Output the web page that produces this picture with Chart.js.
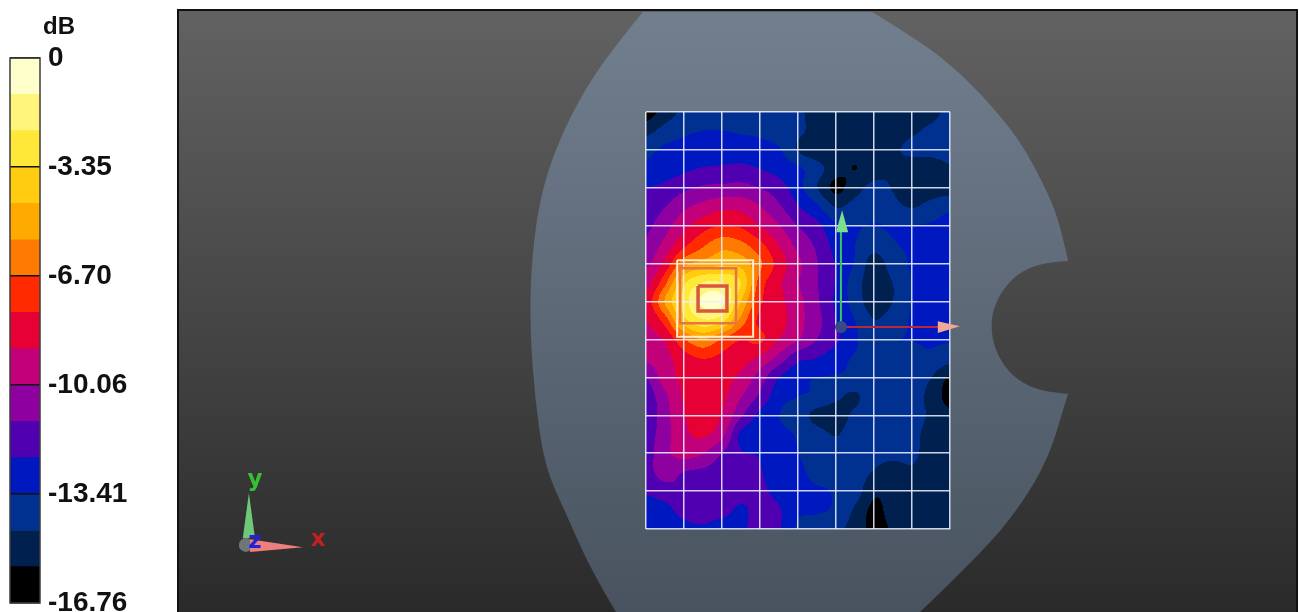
<!DOCTYPE html>
<html>
<head>
<meta charset="utf-8">
<title>SAR scan</title>
<script src="https://cdn.jsdelivr.net/npm/chart.js@4"></script>
<style>
    body { margin: 0; background: #fff; width: 1299px; height: 612px; overflow: hidden; position: relative; }
    canvas { position: absolute; left: 0; top: 0; }
</style>
</head>
<body>
<canvas id="scan" width="1299" height="612"></canvas>
<canvas id="legend" width="178" height="612"></canvas>
<script>
// colour bar
const bandEdges = [-16.76, -15.64, -14.53, -13.41, -12.29, -11.17, -10.06, -8.94, -7.82, -6.70, -5.59, -4.47, -3.35, -2.23, -1.12, 0];
const bandColors = ['#000000', '#00204f', '#003090', '#0018c0', '#5000b0', '#8f00a0', '#c2007a', '#e60033', '#ff2a00', '#ff7a00', '#ffaa00', '#ffcc10', '#ffe838', '#fff57a', '#ffffcc'];
const tickValues = [0, -3.35, -6.70, -10.06, -13.41, -16.76];
const tickLabels = ['0', '-3.35', '-6.70', '-10.06', '-13.41', '-16.76'];

// measured field in dB, half a grid cell apart, first row is the top of the scan
const fieldDb = [
    [-16.2,-15.1,-14.3,-14.0,-13.9,-13.9,-13.9,-14.0,-14.3,-15.0,-15.1,-15.1,-15.1,-15.1,-15.1,-14.9,-14.2],
    [-14.9,-14.1,-13.6,-13.4,-13.4,-13.5,-13.6,-13.9,-14.3,-14.9,-15.1,-15.1,-15.1,-15.0,-14.7,-14.3,-14.0],
    [-13.7,-13.2,-13.0,-13.0,-12.9,-12.9,-13.0,-13.3,-14.6,-15.2,-15.2,-15.3,-15.1,-14.7,-14.3,-14.1,-13.9],
    [-13.2,-12.9,-12.5,-12.2,-12.1,-12.0,-12.3,-12.7,-13.2,-14.1,-15.2,-15.65,-15.1,-14.7,-15.1,-15.3,-14.7],
    [-12.3,-12.0,-11.4,-11.0,-10.9,-10.8,-11.2,-11.8,-13.0,-14.5,-15.9,-15.0,-14.2,-14.6,-15.3,-15.2,-15.0],
    [-11.8,-11.2,-10.3,-9.7,-9.2,-9.3,-10.0,-11.0,-12.2,-13.2,-14.6,-14.1,-13.9,-14.2,-14.6,-14.1,-13.6],
    [-11.4,-10.5,-9.2,-8.3,-7.8,-8.0,-9.0,-10.0,-11.2,-12.0,-13.2,-13.4,-13.4,-13.4,-13.4,-13.3,-13.1],
    [-11.0,-9.7,-8.1,-6.9,-6.0,-6.4,-7.5,-9.0,-10.4,-11.4,-12.7,-13.4,-14.1,-13.5,-13.3,-13.2,-13.1],
    [-10.3,-8.6,-6.0,-5.2,-4.7,-4.9,-6.5,-8.3,-9.8,-11.1,-12.4,-13.5,-15.0,-14.0,-13.3,-13.1,-13.0],
    [-9.4,-7.0,-3.6,-2.2,-2.2,-3.4,-7.2,-8.7,-10.0,-11.1,-12.4,-14.0,-15.1,-14.5,-13.4,-13.1,-13.0],
    [-8.6,-5.5,-2.8,-0.9,-0.9,-4.5,-7.6,-8.6,-9.7,-11.0,-12.5,-13.9,-15.1,-14.5,-13.4,-13.0,-13.0],
    [-9.0,-7.3,-3.8,-2.4,-3.0,-6.0,-8.1,-8.5,-9.7,-10.8,-12.3,-13.4,-14.5,-14.0,-13.3,-13.0,-13.0],
    [-9.4,-8.8,-6.8,-5.6,-6.8,-7.8,-7.6,-9.0,-10.0,-11.2,-12.1,-13.2,-14.3,-13.5,-13.4,-13.3,-13.3],
    [-9.8,-9.3,-8.3,-7.8,-8.1,-8.5,-9.2,-10.5,-12.0,-12.3,-13.0,-13.5,-13.6,-13.6,-13.6,-13.6,-14.1],
    [-11.2,-9.5,-8.7,-8.4,-8.5,-9.2,-10.6,-12.3,-13.1,-13.4,-13.5,-13.6,-13.6,-13.7,-13.9,-14.5,-15.8],
    [-11.8,-10.3,-8.8,-8.5,-8.7,-10.0,-11.4,-13.0,-13.4,-13.6,-14.3,-14.7,-13.7,-13.7,-14.0,-14.9,-16.1],
    [-12.0,-10.5,-9.0,-8.6,-9.0,-11.0,-12.6,-13.4,-13.9,-14.9,-15.0,-14.3,-13.7,-13.7,-14.1,-14.7,-15.4],
    [-11.7,-10.5,-9.2,-8.8,-9.7,-12.5,-12.9,-13.2,-13.5,-14.1,-14.6,-13.9,-13.7,-13.7,-14.2,-14.9,-15.1],
    [-11.6,-10.4,-9.6,-10.0,-11.2,-12.2,-12.4,-13.2,-13.4,-13.9,-13.9,-14.0,-14.2,-14.2,-14.3,-15.0,-15.2],
    [-11.5,-10.8,-11.2,-11.4,-11.7,-12.0,-12.2,-13.1,-13.2,-13.7,-13.6,-14.0,-14.6,-15.0,-14.7,-15.1,-15.2],
    [-12.1,-11.6,-11.3,-11.6,-11.7,-11.8,-12.0,-12.7,-13.1,-13.3,-13.5,-14.0,-15.4,-15.2,-15.1,-15.2,-15.2],
    [-13.1,-12.7,-11.8,-11.5,-11.8,-12.5,-11.8,-12.2,-13.2,-13.3,-13.6,-14.7,-15.9,-15.2,-15.1,-15.2,-15.2],
    [-13.2,-13.1,-12.7,-12.5,-13.0,-12.6,-11.7,-12.2,-13.6,-13.9,-14.2,-15.0,-16.0,-15.5,-15.2,-15.2,-15.2]
];

// everything below is in grid cells, same scales as the field
const phantomOutline = [
    [-0.08,-2.64],[5.95,-2.64],[7.03,-1.98],[7.97,-1.29],[8.89,-0.40],[9.84,0.74],[10.5,1.98],[10.87,2.85],[11.11,3.93],
    [10.5,3.96],[9.84,4.22],[9.39,4.67],[9.13,5.22],[9.08,5.67],[9.16,6.2],[9.45,6.75],[9.89,7.15],[10.5,7.39],[11.11,7.44],
    [11.05,7.6],[10.61,9.1],[9.84,10.42],[8.82,11.64],[7.21,13.19],[-0.79,13.19],[-1.45,12.08],[-2.11,10.58],[-2.66,9.37],
    [-2.92,7.6],[-3.05,5.75],[-3.03,4.17],[-2.84,2.51],[-2.47,1.19],[-1.82,-0.24],[-0.97,-1.56]
];
const outlineCorners = [0, 1, 8, 18, 23, 24];
const outerBox = [[0.82,3.91],[2.82,3.91],[2.82,5.93],[0.82,5.93],[0.82,3.91]];
const middleBox = [[0.9,4.12],[2.37,4.12],[2.37,5.57],[0.9,5.57],[0.9,4.12]];
const innerBox = [[1.37,4.59],[2.13,4.59],[2.13,5.25],[1.37,5.25],[1.37,4.59]];
const yAxisLine = [[5.13,5.67],[5.13,3.11]];
const xAxisLine = [[5.13,5.67],[7.74,5.67]];
const yArrowHead = [[5.16,2.59],[5.0,3.17],[5.32,3.17]];
const xArrowHead = [[8.26,5.65],[7.68,5.52],[7.68,5.83]];
const origin = [[5.13,5.67]];
const triadY = [[-10.45,10.05],[-10.61,11.24],[-10.29,11.24]];
const triadX = [[-9.03,11.48],[-10.42,11.27],[-10.42,11.61]];
const triadOrigin = [-10.53,11.42];
const triadLetters = [['y',-10.29,9.71,'#35c035'],['x',-8.63,11.29,'#c02222'],['z',-10.29,11.35,'#2222d8']];

function toPoints(list){
    return list.map(function(p){ return {x: p[0], y: p[1]}; });
}

function bandIndex(db){
    for(let i = 1; i < bandEdges.length; i++){
        if(db < bandEdges[i]) return i - 1;
    }
    return bandColors.length - 1;
}

function fillPolygon(chart, list, color){
    const ctx = chart.ctx, xs = chart.scales.x, ys = chart.scales.y;
    ctx.fillStyle = color;
    ctx.beginPath();
    list.forEach(function(p, i){
        const px = xs.getPixelForValue(p[0]), py = ys.getPixelForValue(p[1]);
        if(i === 0) ctx.moveTo(px, py); else ctx.lineTo(px, py);
    });
    ctx.closePath();
    ctx.fill();
}

// rounds off the outline everywhere except at its real corners
function fillOutline(chart, list, corners, color){
    const ctx = chart.ctx, xs = chart.scales.x, ys = chart.scales.y;
    const pts = list.map(function(p){ return [xs.getPixelForValue(p[0]), ys.getPixelForValue(p[1])]; });
    ctx.fillStyle = color;
    ctx.beginPath();
    ctx.moveTo(pts[0][0], pts[0][1]);
    for(let i = 1; i < pts.length; i++){
        const nextIndex = (i + 1) % pts.length;
        const next = pts[nextIndex];
        if(corners.indexOf(i) >= 0){
            ctx.lineTo(pts[i][0], pts[i][1]);
        }else if(corners.indexOf(nextIndex) >= 0){
            ctx.quadraticCurveTo(pts[i][0], pts[i][1], next[0], next[1]);
        }else{
            ctx.quadraticCurveTo(pts[i][0], pts[i][1], (pts[i][0] + next[0]) / 2, (pts[i][1] + next[1]) / 2);
        }
    }
    ctx.closePath();
    ctx.fill();
}

function cubic(a, b, c, d, t){
    return b + 0.5 * t * (c - a + t * (2 * a - 5 * b + 4 * c - d + t * (3 * (b - c) + d - a)));
}

function fieldAt(row, col){
    const rows = fieldDb.length, cols = fieldDb[0].length;
    const r = Math.min(Math.floor(row), rows - 2), c = Math.min(Math.floor(col), cols - 2);
    const line = [];
    for(let k = -1; k <= 2; k++){
        const v = fieldDb[Math.max(0, Math.min(rows - 1, r + k))];
        line.push(cubic(v[Math.max(0, c - 1)], v[c], v[c + 1], v[Math.min(cols - 1, c + 2)], col - c));
    }
    return cubic(line[0], line[1], line[2], line[3], row - r);
}

function drawField(chart){
    const area = chart.chartArea, xs = chart.scales.x, ys = chart.scales.y;
    const w = Math.round(area.right - area.left), h = Math.round(area.bottom - area.top);
    const off = document.createElement('canvas');
    off.width = w;
    off.height = h;
    const octx = off.getContext('2d');
    const img = octx.createImageData(w, h);
    const rgb = bandColors.map(function(c){
        return [parseInt(c.slice(1,3),16), parseInt(c.slice(3,5),16), parseInt(c.slice(5,7),16)];
    });
    for(let j = 0; j < h; j++){
        const row = ys.getValueForPixel(area.top + j + 0.5) * 2;
        for(let i = 0; i < w; i++){
            const col = xs.getValueForPixel(area.left + i + 0.5) * 2;
            const color = rgb[bandIndex(fieldAt(row, col))];
            const k = (j * w + i) * 4;
            img.data[k] = color[0];
            img.data[k + 1] = color[1];
            img.data[k + 2] = color[2];
            img.data[k + 3] = 255;
        }
    }
    octx.putImageData(img, 0, 0);
    const ctx = chart.ctx;
    ctx.save();
    ctx.beginPath();
    ctx.rect(area.left, area.top, w, h);
    ctx.clip();
    ctx.filter = 'blur(0.7px)';
    ctx.drawImage(off, area.left, area.top);
    ctx.restore();
}

const scenePlugin = {
    id: 'scene',
    beforeDraw: function(chart){
        const ctx = chart.ctx;
        ctx.save();
        // dark panel
        const back = ctx.createLinearGradient(0, 10, 0, 612);
        back.addColorStop(0, '#626262');
        back.addColorStop(1, '#2a2a2a');
        ctx.fillStyle = back;
        ctx.fillRect(178, 10, 1119, 602);
        ctx.fillStyle = '#111';
        ctx.fillRect(177, 9, 1121, 2);
        ctx.fillRect(177, 9, 2, 603);
        ctx.fillRect(1296, 9, 2, 603);
        // phantom shape, cut by the panel
        ctx.beginPath();
        ctx.rect(179, 11, 1117, 601);
        ctx.clip();
        const skin = ctx.createLinearGradient(0, 10, 0, 612);
        skin.addColorStop(0, '#727f8f');
        skin.addColorStop(1, '#48535f');
        fillOutline(chart, phantomOutline, outlineCorners, skin);
        ctx.restore();
        drawField(chart);
    },
    afterDatasetsDraw: function(chart){
        const ctx = chart.ctx, xs = chart.scales.x, ys = chart.scales.y;
        ctx.save();
        ctx.filter = 'blur(0.6px)';
        // points outside the chart area are skipped by the library, so the small triad ball goes here
        ctx.fillStyle = '#70757a';
        ctx.beginPath();
        ctx.arc(xs.getPixelForValue(triadOrigin[0]), ys.getPixelForValue(triadOrigin[1]), 7, 0, Math.PI * 2);
        ctx.fill();
        fillPolygon(chart, yArrowHead, '#7ddf8a');
        fillPolygon(chart, xArrowHead, '#f2a897');
        fillPolygon(chart, triadY, '#6fc877');
        fillPolygon(chart, triadX, '#ee7f7f');
        ctx.font = 'bold 23px "DejaVu Sans"';
        ctx.textAlign = 'center';
        ctx.textBaseline = 'middle';
        triadLetters.forEach(function(t){
            ctx.fillStyle = t[3];
            ctx.fillText(t[0], xs.getPixelForValue(t[1]), ys.getPixelForValue(t[2]));
        });
        ctx.restore();
    }
};

function lineSet(list, color, width){
    return {data: toPoints(list), showLine: true, borderColor: color, borderWidth: width, pointRadius: 0, clip: false, tension: 0};
}

new Chart(document.getElementById('scan'), {
    type: 'scatter',
    data: {
        datasets: [
            {data: toPoints(origin), pointRadius: 6, backgroundColor: '#3a4a86', borderWidth: 0, clip: false},
            lineSet(xAxisLine, '#b82838', 2),
            lineSet(yAxisLine, '#35c860', 2),
            lineSet(innerBox, '#d9563f', 3.5),
            lineSet(middleBox, '#e8724a', 2.5),
            lineSet(outerBox, '#fff0c8', 2)
        ]
    },
    options: {
        responsive: false,
        animation: false,
        layout: {padding: {left: 646, right: 349, top: 112, bottom: 83}},
        plugins: {legend: {display: false}, tooltip: {enabled: false}},
        scales: {
            x: {
                type: 'linear', min: 0, max: 8,
                ticks: {display: false, stepSize: 1},
                grid: {color: 'rgba(235,238,255,0.88)', lineWidth: 1.5, drawTicks: false},
                border: {display: false}
            },
            y: {
                type: 'linear', min: 0, max: 11, reverse: true,
                ticks: {display: false, stepSize: 1},
                grid: {color: 'rgba(235,238,255,0.88)', lineWidth: 1.5, drawTicks: false},
                border: {display: false}
            }
        }
    },
    plugins: [scenePlugin]
});

// colour bar on the left, one floating bar for each band
const legendPlugin = {
    id: 'legendFrame',
    afterDraw: function(chart){
        const ctx = chart.ctx, area = chart.chartArea;
        ctx.save();
        ctx.strokeStyle = '#3c3c3c';
        ctx.lineWidth = 1.5;
        ctx.strokeRect(area.left, area.top, area.right - area.left, area.bottom - area.top);
        ctx.fillStyle = '#111';
        ctx.font = 'bold 24px "Liberation Sans"';
        ctx.textAlign = 'center';
        ctx.textBaseline = 'middle';
        ctx.fillText('dB', 59, 27);
        ctx.restore();
    }
};

new Chart(document.getElementById('legend'), {
    type: 'bar',
    data: {
        labels: [''],
        datasets: bandColors.map(function(c, i){
            return {data: [[bandEdges[i], bandEdges[i + 1]]], backgroundColor: c, grouped: false, barPercentage: 1, categoryPercentage: 1};
        })
    },
    options: {
        responsive: false,
        animation: false,
        layout: {padding: {left: 10, right: 0, top: 58, bottom: 9}},
        plugins: {legend: {display: false}, tooltip: {enabled: false}},
        scales: {
            x: {display: false},
            y: {
                position: 'right',
                min: -16.76, max: 0,
                afterBuildTicks: function(scale){
                    scale.ticks = tickValues.map(function(v){ return {value: v}; });
                },
                afterFit: function(scale){
                    scale.width = 138;
                    scale.paddingTop = 0;
                    scale.paddingBottom = 0;
                },
                grid: {color: '#111', lineWidth: 1.5, drawTicks: false, z: 1},
                border: {display: false},
                ticks: {
                    autoSkip: false, maxRotation: 0, padding: 8, color: '#111',
                    font: {family: '"Liberation Sans"', size: 28, weight: 'bold'},
                    callback: function(value, index){ return tickLabels[index]; }
                }
            }
        }
    },
    plugins: [legendPlugin]
});
</script>
</body>
</html>
